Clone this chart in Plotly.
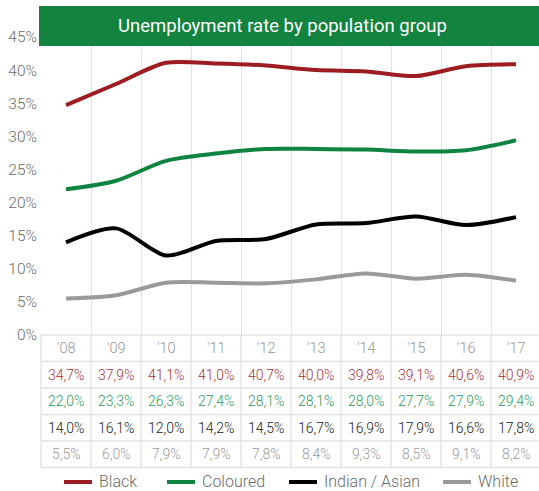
import plotly.graph_objects as go

years = ["'08", "'09", "'10", "'11", "'12", "'13", "'14", "'15", "'16", "'17"]
black = [34.7, 37.9, 41.1, 41.0, 40.7, 40.0, 39.8, 39.1, 40.6, 40.9]
coloured = [22.0, 23.3, 26.3, 27.4, 28.1, 28.1, 28.0, 27.7, 27.9, 29.4]
indian_asian = [14.0, 16.1, 12.0, 14.2, 14.5, 16.7, 16.9, 17.9, 16.6, 17.8]
white = [5.5, 6.0, 7.9, 7.9, 7.8, 8.4, 9.3, 8.5, 9.1, 8.2]
y_ticks = [0, 5, 10, 15, 20, 25, 30, 35, 40, 45]

series = [
    ("Black", black, "#9c1c21", "#a8323a"),
    ("Coloured", coloured, "#0f8441", "#2f9a57"),
    ("Indian / Asian", indian_asian, "#000000", "#222222"),
    ("White", white, "#9a9a9a", "#9a9a9a"),
]
legend_x_px = [64, 167, 289, 443]

FONT = "Roboto"
WT = 300
W, H = 539, 491
ML, MR, MT, MB = 41, 0, 37, 156
plot_w = W - ML - MR
plot_h = H - MT - MB
px_per_cat = 50.0
xs = list(range(len(years)))

fig = go.Figure()
for name, vals, col, _ in series:
    fig.add_trace(go.Scatter(
        x=xs, y=vals, name=name, mode="lines",
        line=dict(color=col, width=4, shape="spline", smoothing=0.8),
        hoverinfo="skip", showlegend=False,
    ))

shapes = []
annotations = []
grid_col = "#e2e2e2"
row_h = 26.5 / plot_h
n_rows = 1 + len(series)

# table horizontal lines
for k in range(n_rows + 1):
    shapes.append(dict(type="line", xref="paper", yref="paper",
                       x0=0, x1=1, y0=-k * row_h, y1=-k * row_h,
                       line=dict(color=grid_col, width=1.3), layer="above"))
# table vertical lines (category boundaries, converted to paper units)
for i in range(len(years) + 1):
    xp = i * px_per_cat / plot_w
    shapes.append(dict(type="line", xref="paper", yref="paper",
                       x0=xp, x1=xp, y0=0, y1=-n_rows * row_h,
                       line=dict(color=grid_col, width=1.3), layer="above"))

# year row
for i, yr in enumerate(years):
    annotations.append(dict(x=i, y=-0.5 * row_h, xref="x", yref="paper",
                            text=yr, showarrow=False, yanchor="middle",
                            font=dict(family=FONT, size=14.5, color="#959595",
                                      weight=WT)))
# value rows
for r, (name, vals, _, tcol) in enumerate(series):
    for i, v in enumerate(vals):
        annotations.append(dict(
            x=i, y=-(r + 1.5) * row_h, xref="x", yref="paper",
            text=f"{v:.1f}%".replace(".", ","), showarrow=False,
            yanchor="middle",
            font=dict(family=FONT, size=14, color=tcol, weight=WT)))

# manual legend
leg_y = (H - MB - 482) / plot_h
for (name, _, col, _), lx in zip(series, legend_x_px):
    x0 = (lx - ML) / plot_w
    x1 = (lx + 28 - ML) / plot_w
    shapes.append(dict(type="line", xref="paper", yref="paper",
                       x0=x0, x1=x1, y0=leg_y, y1=leg_y,
                       line=dict(color=col, width=4), layer="above"))
    annotations.append(dict(x=(lx + 33 - ML) / plot_w, y=leg_y,
                            xref="paper", yref="paper", text=name,
                            showarrow=False, xanchor="left", yanchor="middle",
                            font=dict(family=FONT, size=16, color="#6b6b6b",
                                      weight=WT)))

# title banner
b_top, b_bot = 6, 46
shapes.append(dict(type="rect", xref="paper", yref="paper",
                   x0=(39 - ML) / plot_w, x1=1,
                   y0=(H - MB - b_bot) / plot_h, y1=(H - MB - b_top) / plot_h,
                   fillcolor="#12843f", line=dict(width=0), layer="above"))
annotations.append(dict(
    x=(282 - ML) / plot_w, y=(H - MB - 26) / plot_h, xref="paper", yref="paper",
    text="Unemployment rate by population group", showarrow=False,
    font=dict(family=FONT, size=18.5, color="#ffffff", weight=400),
    xanchor="center", yanchor="middle"))

fig.update_layout(
    width=W, height=H,
    margin=dict(l=ML, r=MR, t=MT, b=MB, pad=0, autoexpand=False),
    paper_bgcolor="#ffffff", plot_bgcolor="#ffffff",
    font=dict(family=FONT, color="#666666"),
    shapes=shapes, annotations=annotations,
    showlegend=False,
    xaxis=dict(range=[-0.5, -0.5 + plot_w / px_per_cat],
               tickvals=[i - 0.5 for i in range(len(years) + 1)],
               showticklabels=False, ticks="",
               showgrid=True, gridcolor=grid_col, gridwidth=1.3,
               zeroline=False, showline=False, fixedrange=True),
    yaxis=dict(range=[0, 45], tickvals=y_ticks,
               ticktext=[f"{t}%" for t in y_ticks],
               tickfont=dict(family=FONT, size=15.5, color="#6b6b6b",
                             weight=WT),
               showgrid=False, zeroline=False, showline=False, ticks="",
               ticklabelstandoff=3, fixedrange=True),
)

fig.write_html("out.html")
